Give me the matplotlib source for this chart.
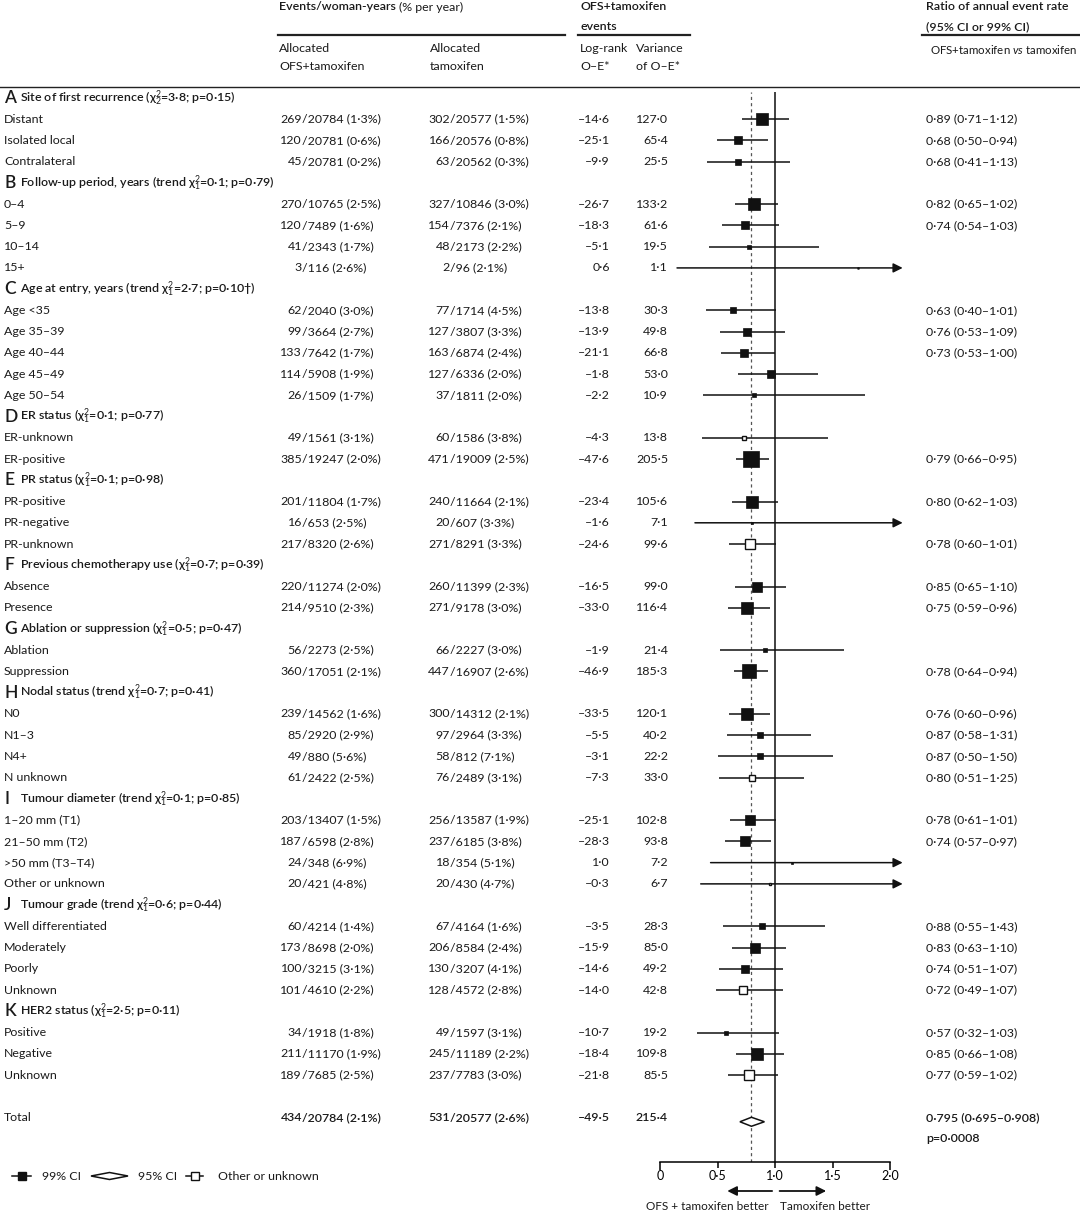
import numpy as np
import matplotlib.pyplot as plt
from matplotlib import transforms
from matplotlib.lines import Line2D
from matplotlib.patches import Polygon

plt.rcParams['font.family'] = ['Lato', 'DejaVu Sans']
plt.rcParams['mathtext.fontset'] = 'custom'
plt.rcParams['mathtext.rm'] = 'Lato'
plt.rcParams['mathtext.it'] = 'Lato:italic'
plt.rcParams['mathtext.bf'] = 'Lato:bold'

# ---- data ----
header_letters = list('ABCDEFGHIJK')
header_titles = [
    'Site of first recurrence (χ$^2_2$=3·8; p=0·15)',
    'Follow-up period, years (trend χ$^2_1$=0·1; p=0·79)',
    'Age at entry, years (trend χ$^2_1$=2·7; p=0·10†)',
    'ER status (χ$^2_1$=0·1; p=0·77)',
    'PR status (χ$^2_1$=0·1; p=0·98)',
    'Previous chemotherapy use (χ$^2_1$=0·7; p=0·39)',
    'Ablation or suppression (χ$^2_1$=0·5; p=0·47)',
    'Nodal status (trend χ$^2_1$=0·7; p=0·41)',
    'Tumour diameter (trend χ$^2_1$=0·1; p=0·85)',
    'Tumour grade (trend χ$^2_1$=0·6; p=0·44)',
    'HER2 status (χ$^2_1$=2·5; p=0·11)',
]
group_sizes = [3, 4, 5, 2, 3, 2, 2, 4, 4, 4, 3]

sub_labels = ['Distant', 'Isolated local', 'Contralateral',
              '0–4', '5–9', '10–14', '15+',
              'Age <35', 'Age 35–39', 'Age 40–44', 'Age 45–49', 'Age 50–54',
              'ER-unknown', 'ER-positive',
              'PR-positive', 'PR-negative', 'PR-unknown',
              'Absence', 'Presence',
              'Ablation', 'Suppression',
              'N0', 'N1–3', 'N4+', 'N unknown',
              '1–20 mm (T1)', '21–50 mm (T2)', '>50 mm (T3–T4)', 'Other or unknown',
              'Well differentiated', 'Moderately', 'Poorly', 'Unknown',
              'Positive', 'Negative', 'Unknown']

ofs_events = [269, 120, 45, 270, 120, 41, 3, 62, 99, 133, 114, 26, 49, 385, 201, 16, 217, 220, 214,
              56, 360, 239, 85, 49, 61, 203, 187, 24, 20, 60, 173, 100, 101, 34, 211, 189]
ofs_years = [20784, 20781, 20781, 10765, 7489, 2343, 116, 2040, 3664, 7642, 5908, 1509, 1561, 19247,
             11804, 653, 8320, 11274, 9510, 2273, 17051, 14562, 2920, 880, 2422, 13407, 6598, 348,
             421, 4214, 8698, 3215, 4610, 1918, 11170, 7685]
ofs_pct = [1.3, 0.6, 0.2, 2.5, 1.6, 1.7, 2.6, 3.0, 2.7, 1.7, 1.9, 1.7, 3.1, 2.0, 1.7, 2.5, 2.6, 2.0,
           2.3, 2.5, 2.1, 1.6, 2.9, 5.6, 2.5, 1.5, 2.8, 6.9, 4.8, 1.4, 2.0, 3.1, 2.2, 1.8, 1.9, 2.5]
tam_events = [302, 166, 63, 327, 154, 48, 2, 77, 127, 163, 127, 37, 60, 471, 240, 20, 271, 260, 271,
              66, 447, 300, 97, 58, 76, 256, 237, 18, 20, 67, 206, 130, 128, 49, 245, 237]
tam_years = [20577, 20576, 20562, 10846, 7376, 2173, 96, 1714, 3807, 6874, 6336, 1811, 1586, 19009,
             11664, 607, 8291, 11399, 9178, 2227, 16907, 14312, 2964, 812, 2489, 13587, 6185, 354,
             430, 4164, 8584, 3207, 4572, 1597, 11189, 7783]
tam_pct = [1.5, 0.8, 0.3, 3.0, 2.1, 2.2, 2.1, 4.5, 3.3, 2.4, 2.0, 2.0, 3.8, 2.5, 2.1, 3.3, 3.3, 2.3,
           3.0, 3.0, 2.6, 2.1, 3.3, 7.1, 3.1, 1.9, 3.8, 5.1, 4.7, 1.6, 2.4, 4.1, 2.8, 3.1, 2.2, 3.0]

oe = [-14.6, -25.1, -9.9, -26.7, -18.3, -5.1, 0.6, -13.8, -13.9, -21.1, -1.8, -2.2, -4.3, -47.6,
      -23.4, -1.6, -24.6, -16.5, -33.0, -1.9, -46.9, -33.5, -5.5, -3.1, -7.3, -25.1, -28.3, 1.0,
      -0.3, -3.5, -15.9, -14.6, -14.0, -10.7, -18.4, -21.8]
var = [127.0, 65.4, 25.5, 133.2, 61.6, 19.5, 1.1, 30.3, 49.8, 66.8, 53.0, 10.9, 13.8, 205.5, 105.6,
       7.1, 99.6, 99.0, 116.4, 21.4, 185.3, 120.1, 40.2, 22.2, 33.0, 102.8, 93.8, 7.2, 6.7, 28.3,
       85.0, 49.2, 42.8, 19.2, 109.8, 85.5]

ratio = [0.891, 0.681, 0.678, 0.818, 0.743, 0.770, 1.725, 0.634, 0.757, 0.729, 0.967, 0.817, 0.732,
         0.793, 0.801, 0.798, 0.781, 0.847, 0.753, 0.915, 0.776, 0.757, 0.872, 0.870, 0.802, 0.783,
         0.740, 1.149, 0.956, 0.884, 0.829, 0.743, 0.721, 0.573, 0.846, 0.775]
lo99 = [0.709, 0.495, 0.407, 0.655, 0.535, 0.430, 0.148, 0.397, 0.525, 0.532, 0.679, 0.375, 0.366,
        0.663, 0.624, 0.304, 0.604, 0.653, 0.593, 0.524, 0.643, 0.598, 0.581, 0.503, 0.512, 0.608,
        0.567, 0.440, 0.354, 0.546, 0.627, 0.515, 0.486, 0.318, 0.661, 0.587]
hi99 = [1.120, 0.937, 1.130, 1.023, 1.032, 1.380, 20.1, 1.013, 1.090, 0.999, 1.377, 1.783, 1.465,
        0.949, 1.030, 2.099, 1.011, 1.097, 0.956, 1.597, 0.938, 0.957, 1.309, 1.503, 1.254, 1.010,
        0.966, 3.00, 2.587, 1.434, 1.097, 1.073, 1.069, 1.031, 1.081, 1.024]
is_unknown = [False] * 36
for k in (12, 16, 24, 28, 32, 35):
    is_unknown[k] = True

ratio_text = ['0·89 (0·71–1·12)', '0·68 (0·50–0·94)', '0·68 (0·41–1·13)', '0·82 (0·65–1·02)',
              '0·74 (0·54–1·03)', '', '', '0·63 (0·40–1·01)', '0·76 (0·53–1·09)', '0·73 (0·53–1·00)',
              '', '', '', '0·79 (0·66–0·95)', '0·80 (0·62–1·03)', '', '0·78 (0·60–1·01)',
              '0·85 (0·65–1·10)', '0·75 (0·59–0·96)', '', '0·78 (0·64–0·94)', '0·76 (0·60–0·96)',
              '0·87 (0·58–1·31)', '0·87 (0·50–1·50)', '0·80 (0·51–1·25)', '0·78 (0·61–1·01)',
              '0·74 (0·57–0·97)', '', '', '0·88 (0·55–1·43)', '0·83 (0·63–1·10)', '0·74 (0·51–1·07)',
              '0·72 (0·49–1·07)', '0·57 (0·32–1·03)', '0·85 (0·66–1·08)', '0·77 (0·59–1·02)']

total_ofs = (434, 20784, 2.1)
total_tam = (531, 20577, 2.6)
total_oe, total_var = -49.5, 215.4
total_ratio, total_lo, total_hi = 0.795, 0.695, 0.908


def num(x):
    return f'{x:.1f}'.replace('.', '·').replace('-', '–')


# ---- layout ----
W, H = 1080, 1213
fig = plt.figure(figsize=(W / 100, H / 100), dpi=100)
ROW0, STEP = 98, 21.24
AX_TOP, AX_BOT = 92, 1162
ax = fig.add_axes([660 / W, 1 - AX_BOT / H, 230 / W, (AX_BOT - AX_TOP) / H])
ax.set_xlim(0, 2)
ax.set_ylim((AX_BOT - ROW0) / STEP, (AX_TOP - ROW0) / STEP)
for s in ('top', 'left', 'right'):
    ax.spines[s].set_visible(False)
ax.spines['bottom'].set_linewidth(1.1)
ax.set_yticks([])
ax.set_xticks([0, 0.5, 1, 1.5, 2])
ax.set_xticklabels(['0', '0·5', '1·0', '1·5', '2·0'], fontsize=9)
ax.tick_params(axis='x', direction='out', length=4, width=1.1, pad=2)
for t, L in zip(ax.xaxis.get_major_ticks(), [6, 4, 4, 4, 6]):
    t.tick1line.set_markersize(L)
ax.patch.set_alpha(0)

tr = transforms.blended_transform_factory(fig.transFigure, ax.transData)
FS = 8.9
TXT = '#1a1a1a'


def fx(px):
    return px / W


def fy(py):
    return 1 - py / H


# header
renderer = fig.canvas.get_renderer()
t_ev = fig.text(fx(279), fy(7), 'Events/woman-years', fontsize=FS, weight='semibold', va='center', color=TXT)
bb = t_ev.get_window_extent(renderer)
fig.text(bb.x1 / W + fx(3), fy(7), '(% per year)', fontsize=FS, va='center', color=TXT)
fig.text(fx(580), fy(7), 'OFS+tamoxifen', fontsize=FS, weight='semibold', va='center', color=TXT)
fig.text(fx(580), fy(27), 'events', fontsize=FS, weight='semibold', va='center', color=TXT)
fig.text(fx(926), fy(7), 'Ratio of annual event rate', fontsize=FS, weight='semibold', va='center', color=TXT)
fig.text(fx(926), fy(27), '(95% CI or 99% CI)', fontsize=FS, weight='semibold', va='center', color=TXT)
fig.text(fx(279), fy(49), 'Allocated', fontsize=FS, va='center', color=TXT)
fig.text(fx(279), fy(66), 'OFS+tamoxifen', fontsize=FS, va='center', color=TXT)
fig.text(fx(430), fy(49), 'Allocated', fontsize=FS, va='center', color=TXT)
fig.text(fx(430), fy(66), 'tamoxifen', fontsize=FS, va='center', color=TXT)
fig.text(fx(580), fy(49), 'Log-rank', fontsize=FS, va='center', color=TXT)
fig.text(fx(580), fy(66), 'O–E*', fontsize=FS, va='center', color=TXT)
fig.text(fx(636), fy(49), 'Variance', fontsize=FS, va='center', color=TXT)
fig.text(fx(636), fy(66), 'of O–E*', fontsize=FS, va='center', color=TXT)
fig.text(fx(1077), fy(49), 'OFS+tamoxifen $\\it{vs}$ tamoxifen', fontsize=8.3, va='center',
         ha='right', color=TXT)

for x0, x1, y, lw in [(278, 565, 35, 1.6), (578, 690, 35, 1.6), (922, 1080, 35, 1.6), (0, 1080, 87, 1.0)]:
    fig.add_artist(Line2D([fx(x0), fx(x1)], [fy(y), fy(y)], color='#222', lw=lw))

# reference lines
ax.axvline(1.0, color='#333', lw=1.3)
ax.axvline(total_ratio, color='#555', lw=0.9, ls=(0, (2.5, 2.5)))

# rows
row = 0
k = 0
for g, n in enumerate(group_sizes):
    ax.text(fx(4), row, header_letters[g], transform=tr, fontsize=12.5, weight='semibold',
            va='center', color=TXT)
    ax.text(fx(20), row, header_titles[g], transform=tr, fontsize=FS, weight='semibold',
            va='center', color=TXT)
    row += 1
    for _ in range(n):
        y = row
        ax.text(fx(4), y, sub_labels[k], transform=tr, fontsize=FS, va='center', color=TXT)
        ax.text(fx(302), y, str(ofs_events[k]), transform=tr, fontsize=FS, va='center', ha='right', color=TXT)
        ax.text(fx(302), y, f'/{ofs_years[k]} ({num(ofs_pct[k])}%)', transform=tr, fontsize=FS,
                va='center', color=TXT)
        ax.text(fx(450), y, str(tam_events[k]), transform=tr, fontsize=FS, va='center', ha='right', color=TXT)
        ax.text(fx(450), y, f'/{tam_years[k]} ({num(tam_pct[k])}%)', transform=tr, fontsize=FS,
                va='center', color=TXT)
        ax.text(fx(610), y, num(oe[k]), transform=tr, fontsize=FS, va='center', ha='right', color=TXT)
        ax.text(fx(668), y, num(var[k]), transform=tr, fontsize=FS, va='center', ha='right', color=TXT)
        if ratio_text[k]:
            ax.text(fx(926), y, ratio_text[k], transform=tr, fontsize=FS, va='center', color=TXT)

        if hi99[k] > 2.0:
            ax.annotate('', xy=(2.11, y), xytext=(lo99[k], y), annotation_clip=False,
                        arrowprops=dict(arrowstyle='-|>', color='#111', lw=1.1,
                                        mutation_scale=14, shrinkA=0, shrinkB=0))
        else:
            ax.hlines(y, lo99[k], hi99[k], color='#111', lw=1.1)
        side = max(1.08 * np.sqrt(var[k]), 1.5) * 0.72
        ax.plot(ratio[k], y, marker='s', ms=side, mfc='white' if is_unknown[k] else '#111',
                mec='#111', mew=1.0 if is_unknown[k] else 0.5, zorder=5)
        row += 1
        k += 1

# total
ty = row + 1
ax.text(fx(4), ty, 'Total', transform=tr, fontsize=FS, va='center', color=TXT)
ax.text(fx(302), ty, str(total_ofs[0]), transform=tr, fontsize=FS, weight='semibold', va='center',
        ha='right', color=TXT)
ax.text(fx(302), ty, f'/{total_ofs[1]} ({num(total_ofs[2])}%)', transform=tr, fontsize=FS,
        weight='semibold', va='center', color=TXT)
ax.text(fx(450), ty, str(total_tam[0]), transform=tr, fontsize=FS, weight='semibold', va='center',
        ha='right', color=TXT)
ax.text(fx(450), ty, f'/{total_tam[1]} ({num(total_tam[2])}%)', transform=tr, fontsize=FS,
        weight='semibold', va='center', color=TXT)
ax.text(fx(610), ty, num(total_oe), transform=tr, fontsize=FS, weight='semibold', va='center', ha='right', color=TXT)
ax.text(fx(668), ty, num(total_var), transform=tr, fontsize=FS, weight='semibold', va='center', ha='right', color=TXT)
ax.text(fx(926), ty, f'{total_ratio:.3f} ({total_lo:.3f}–{total_hi:.3f})'.replace('.', '·'),
        transform=tr, fontsize=FS, weight='semibold', va='center', color=TXT)
ax.text(fx(926), ty + 1, 'p=0·0008', transform=tr, fontsize=FS, weight='semibold', va='center', color=TXT)
dh = 4.5 / STEP
ax.add_patch(Polygon([[total_lo, ty + 0.2], [total_ratio, ty + 0.2 - dh], [total_hi, ty + 0.2],
                      [total_ratio, ty + 0.2 + dh]], closed=True, fc='white', ec='#111', lw=1.1, zorder=5))

# direction arrows under the axis
bt = transforms.blended_transform_factory(ax.transData, fig.transFigure)
ax.annotate('', xy=(0.585, fy(1191)), xytext=(0.975, fy(1191)), xycoords=bt, textcoords=bt,
            annotation_clip=False,
            arrowprops=dict(arrowstyle='-|>', color='#111', lw=1.3, mutation_scale=14, shrinkA=0, shrinkB=0))
ax.annotate('', xy=(1.445, fy(1191)), xytext=(1.04, fy(1191)), xycoords=bt, textcoords=bt,
            annotation_clip=False,
            arrowprops=dict(arrowstyle='-|>', color='#111', lw=1.3, mutation_scale=14, shrinkA=0, shrinkB=0))
fig.text(fx(769), fy(1207), 'OFS + tamoxifen better', fontsize=8.5, ha='right', va='center', color=TXT)
fig.text(fx(780), fy(1207), 'Tamoxifen better', fontsize=8.5, ha='left', va='center', color=TXT)

# legend
ly = fy(1176)
fig.add_artist(Line2D([fx(12), fx(31)], [ly, ly], color='#111', lw=1.1))
fig.add_artist(Line2D([fx(21.5)], [ly], marker='s', ms=5.5, color='#111', ls=''))
fig.text(fx(42), ly, '99% CI', fontsize=FS, va='center', color=TXT)
fig.add_artist(Polygon([[fx(91), ly], [fx(109.5), ly + 3.5 / H], [fx(128), ly], [fx(109.5), ly - 3.5 / H]],
                       closed=True, fc='white', ec='#111', lw=1.1, transform=fig.transFigure))
fig.text(fx(138), ly, '95% CI', fontsize=FS, va='center', color=TXT)
fig.add_artist(Line2D([fx(186), fx(203)], [ly, ly], color='#111', lw=1.1))
fig.add_artist(Line2D([fx(194.5)], [ly], marker='s', ms=5.5, mfc='white', mec='#111', mew=1.0, ls=''))
fig.text(fx(218), ly, 'Other or unknown', fontsize=FS, va='center', color=TXT)

fig.savefig('out.png', dpi=100, facecolor='white')
